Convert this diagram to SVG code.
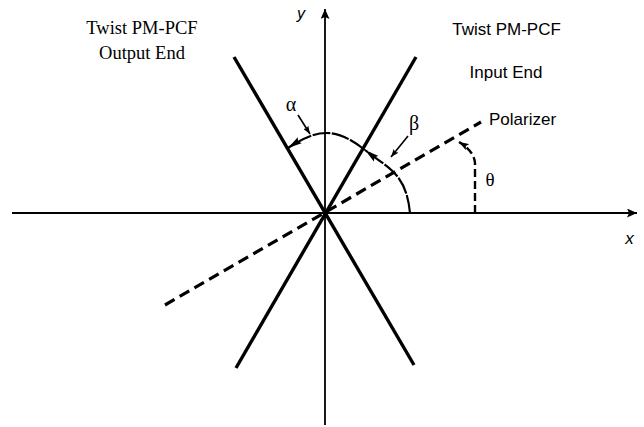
<svg xmlns="http://www.w3.org/2000/svg" width="644" height="427" viewBox="0 0 644 427">
<style>
.ax{stroke:#000;stroke-width:1.8;fill:none}
.fib{stroke:#000;stroke-width:3.4;fill:none;stroke-linecap:butt}
.pol{stroke:#000;stroke-width:3.2;fill:none;stroke-dasharray:11 6}
.arc{stroke:#000;stroke-width:2.2;fill:none;stroke-dasharray:18 1.5}
.th{stroke:#000;stroke-width:2.4;fill:none;stroke-dasharray:8 4}
.ptr{stroke:#000;stroke-width:1.6;fill:none}
.serif{font-family:"Liberation Serif","Times New Roman",serif;fill:#000}
.sans{font-family:"Liberation Sans",Arial,sans-serif;fill:#000}
</style>
<defs>
<marker id="axarr" viewBox="0 0 10 9" refX="10" refY="4.5" markerWidth="10" markerHeight="9" markerUnits="userSpaceOnUse" orient="auto">
<path d="M0,0 L10,4.5 L0,9 L2,4.5 z" fill="#000"/>
</marker>
<marker id="arcarr" viewBox="0 0 14 8" refX="14" refY="4" markerWidth="14" markerHeight="8" markerUnits="userSpaceOnUse" orient="auto">
<path d="M0,0.5 L14,4 L0,7.5 L2,4 z" fill="#000"/>
</marker>
<marker id="ptrarr" viewBox="0 0 8 6" refX="8" refY="3" markerWidth="8" markerHeight="6" markerUnits="userSpaceOnUse" orient="auto">
<path d="M0,0 L8,3 L0,6 L1.5,3 z" fill="#000"/>
</marker>
<marker id="tharr" viewBox="0 0 10 7" refX="10" refY="3.5" markerWidth="10" markerHeight="7" markerUnits="userSpaceOnUse" orient="auto">
<path d="M0,0 L10,3.5 L0,7 L2,3.5 z" fill="#000"/>
</marker>
</defs>
<g id="connectors">
<g id="axes">
<line class="ax" x1="12" y1="213" x2="637" y2="213" marker-end="url(#axarr)"/>
<line class="ax" x1="325" y1="425" x2="325" y2="9" marker-end="url(#axarr)"/>
</g>
<g id="fibers">
<line class="fib" x1="416" y1="57" x2="236" y2="368"/>
<line class="fib" x1="234" y1="57" x2="414" y2="365"/>
</g>
<line id="polarizer-line" class="pol" x1="165" y1="305" x2="481" y2="122"/>
<path id="beta-arc" class="arc" d="M410,213 C406,173 388.7,168.6 365,150" marker-end="url(#arcarr)"/>
<path id="alpha-arc" class="arc" d="M365,150 C336,127.4 318.3,127.9 288,148" marker-end="url(#arcarr)"/>
<path id="theta-arc" class="th" d="M475,213 L475,163 Q474,151 459,142" marker-end="url(#tharr)"/>
<line class="ptr" x1="298" y1="115" x2="310" y2="134" marker-end="url(#ptrarr)"/>
<line class="ptr" x1="408" y1="136" x2="391" y2="157" marker-end="url(#ptrarr)"/>
</g>
<g id="output-label">
<text class="serif" x="142" y="34" font-size="18.5" text-anchor="middle">Twist PM-PCF</text>
<text class="serif" x="142" y="59" font-size="18.5" text-anchor="middle">Output End</text>
</g>
<g id="input-label">
<text class="sans" x="506.5" y="35" font-size="17" text-anchor="middle">Twist PM-PCF</text>
<text class="sans" x="506" y="78" font-size="17" text-anchor="middle">Input End</text>
</g>
<g id="polarizer-label">
<text class="sans" x="489" y="125" font-size="17">Polarizer</text>
</g>
<g id="angle-labels">
<text class="serif" x="291" y="111" font-size="20" text-anchor="middle">α</text>
<text class="serif" x="414" y="129.5" font-size="20" text-anchor="middle">β</text>
<text class="serif" x="490" y="185.5" font-size="19" text-anchor="middle">θ</text>
</g>
<g id="axis-labels">
<text class="sans" x="629.5" y="244" font-size="17" font-style="italic" text-anchor="middle">x</text>
<text class="sans" x="301" y="18.5" font-size="16" font-style="italic" text-anchor="middle">y</text>
</g>
</svg>
